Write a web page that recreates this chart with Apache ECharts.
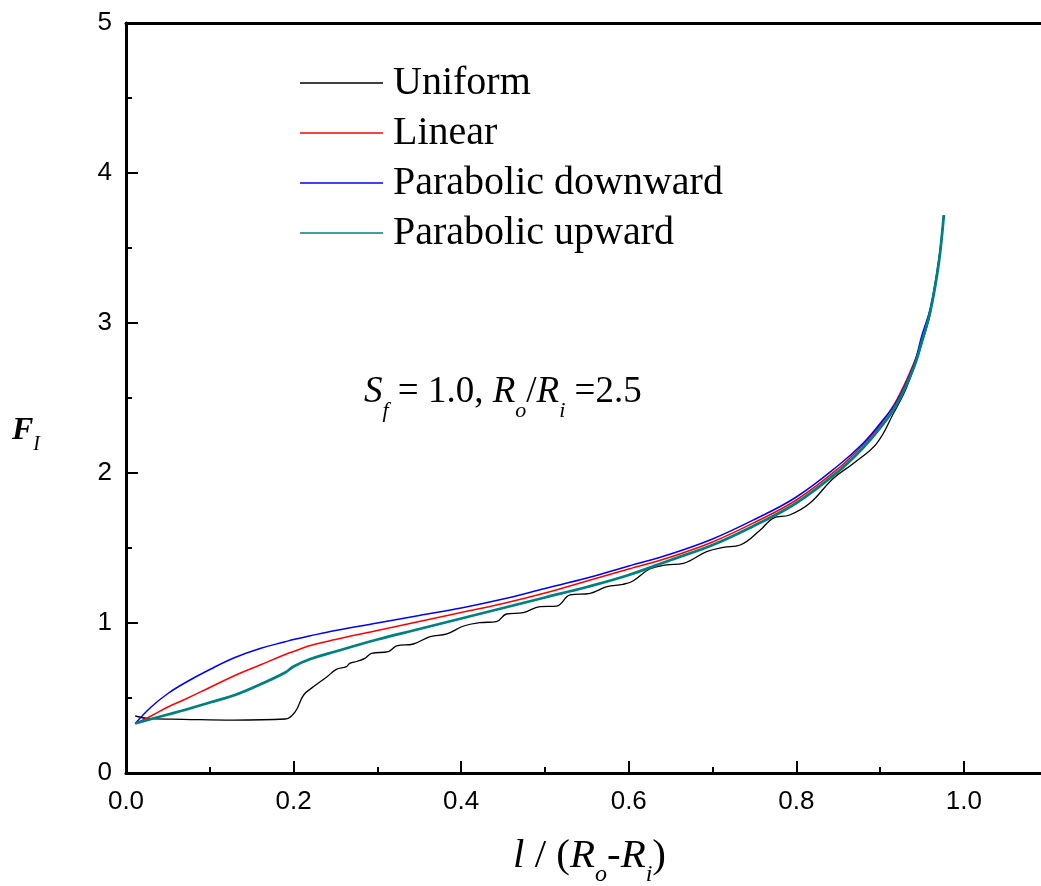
<!DOCTYPE html>
<html>
<head>
<meta charset="utf-8">
<script src="https://cdn.jsdelivr.net/npm/echarts@6/dist/echarts.min.js"></script>
<style>
  html, body { margin: 0; padding: 0; background: #fff; }
  #chart { width: 1041px; height: 886px; }
</style>
</head>
<body>
<div id="chart"></div>
<script>
// Axis ticks
const xMajorTicks = [0, 0.2, 0.4, 0.6, 0.8, 1.0];
const xMinorTicks = [0.1, 0.3, 0.5, 0.7, 0.9];
const yTicks = [0, 1, 2, 3, 4, 5];

const seriesNames = ['Uniform', 'Linear', 'Parabolic downward', 'Parabolic upward'];

// Shared abscissa of the three graded profiles, l / (Ro - Ri)
const gradedX = [0.011, 0.03, 0.05, 0.07, 0.1, 0.13, 0.16, 0.19, 0.2, 0.22, 0.25, 0.3, 0.35, 0.4,
  0.45, 0.5, 0.55, 0.6, 0.65, 0.7, 0.75, 0.8, 0.85, 0.88, 0.9, 0.92, 0.94, 0.95, 0.96, 0.97, 0.976];

// F_I for each profile
const linearY = [0.33, 0.38, 0.44, 0.49, 0.57, 0.65, 0.72, 0.79, 0.81, 0.85, 0.89, 0.95, 1.01, 1.07,
  1.13, 1.20, 1.28, 1.36, 1.44, 1.54, 1.67, 1.82, 2.03, 2.19, 2.32, 2.49, 2.73, 2.89, 3.09, 3.41, 3.72];
const downwardY = [0.33, 0.44, 0.53, 0.60, 0.69, 0.77, 0.83, 0.875, 0.89, 0.915, 0.95, 1.00, 1.05, 1.10,
  1.16, 1.23, 1.30, 1.38, 1.46, 1.56, 1.69, 1.84, 2.05, 2.20, 2.33, 2.48, 2.72, 2.92, 3.10, 3.42, 3.72];
const upwardY = [0.33, 0.36, 0.39, 0.42, 0.47, 0.52, 0.59, 0.67, 0.71, 0.76, 0.81, 0.89, 0.96, 1.03,
  1.10, 1.17, 1.24, 1.32, 1.42, 1.52, 1.65, 1.80, 2.01, 2.17, 2.30, 2.46, 2.70, 2.88, 3.08, 3.40, 3.72];

// Uniform profile (own sampling, wavy)
const uniformX = [0.011, 0.029, 0.068, 0.128, 0.19, 0.202, 0.212, 0.224, 0.24, 0.251, 0.263, 0.267,
  0.276, 0.285, 0.293, 0.313, 0.323, 0.343, 0.363, 0.383, 0.403, 0.422, 0.442, 0.454, 0.474, 0.494,
  0.514, 0.530, 0.554, 0.574, 0.593, 0.605, 0.625, 0.645, 0.665, 0.693, 0.713, 0.733, 0.757, 0.772,
  0.792, 0.816, 0.844, 0.868, 0.896, 0.916, 0.932, 0.95, 0.96, 0.97, 0.976];
const uniformY = [0.38, 0.362, 0.358, 0.353, 0.36, 0.409, 0.52, 0.576, 0.642, 0.691, 0.709, 0.731,
  0.745, 0.764, 0.798, 0.809, 0.847, 0.86, 0.909, 0.927, 0.98, 1.002, 1.009, 1.06, 1.069, 1.109,
  1.113, 1.187, 1.198, 1.242, 1.258, 1.28, 1.36, 1.387, 1.398, 1.476, 1.504, 1.52, 1.62, 1.698,
  1.72, 1.798, 1.964, 2.064, 2.198, 2.398, 2.576, 2.87, 3.07, 3.40, 3.72];

const pairs = (xs, ys) => xs.map((x, i) => [x, ys[i]]);

const serif = 'Liberation Serif, Times New Roman, serif';
const sans = 'Liberation Sans, Arial, sans-serif';

// Rich-text styles for a main run with lowered subscripts
function richStyles(size, subSize, lineH, bold) {
  return {
    i: { fontFamily: serif, fontStyle: 'italic', fontWeight: bold ? 'bold' : 'normal', fontSize: size, lineHeight: lineH, fill: '#000' },
    n: { fontFamily: serif, fontSize: size, lineHeight: lineH, fill: '#000' },
    s: { fontFamily: serif, fontStyle: 'italic', fontSize: subSize, lineHeight: subSize, verticalAlign: 'bottom', fill: '#000' }
  };
}

const chart = echarts.init(document.getElementById('chart'), null, { renderer: 'canvas' });

const xMax = 1.092;

function lineSeries(name, xs, ys, color, width, z) {
  return {
    name: name, type: 'line', xAxisIndex: 0, data: pairs(xs, ys),
    symbol: 'none', showSymbol: false, smooth: 0.4,
    lineStyle: { color: color, width: width }, itemStyle: { color: color }, z: z
  };
}

chart.setOption({
  animation: false,
  backgroundColor: '#fff',
  grid: { left: 126, right: 0, top: 23, bottom: 113, containLabel: false },
  legend: {
    orient: 'vertical',
    left: 300,
    top: 63,
    padding: 0,
    icon: 'rect',
    itemWidth: 83,
    itemHeight: 1.5,
    itemGap: 10,
    data: seriesNames,
    textStyle: { fontFamily: serif, fontSize: 40, lineHeight: 40, color: '#000', padding: [0, 0, 0, 5] }
  },
  xAxis: [
    {
      type: 'value', min: 0, max: xMax, position: 'bottom',
      axisLine: { show: true, onZero: false, lineStyle: { color: '#000', width: 3 } },
      axisTick: { show: true, inside: true, length: 12, lineStyle: { color: '#000', width: 2 }, customValues: xMajorTicks },
      axisLabel: { color: '#000', fontFamily: sans, fontSize: 26, margin: 16, customValues: xMajorTicks,
        formatter: v => v.toFixed(1) },
      splitLine: { show: false }
    },
    {
      type: 'value', min: 0, max: xMax, position: 'bottom',
      axisLine: { show: false },
      axisTick: { show: true, inside: true, length: 6, lineStyle: { color: '#000', width: 2 }, customValues: xMinorTicks },
      axisLabel: { show: false },
      splitLine: { show: false }
    },
    {
      type: 'value', min: 0, max: xMax, position: 'top',
      axisLine: { show: true, onZero: false, lineStyle: { color: '#000', width: 3 } },
      axisTick: { show: false },
      axisLabel: { show: false },
      splitLine: { show: false }
    }
  ],
  yAxis: {
    type: 'value', min: yTicks[0], max: yTicks[yTicks.length - 1], interval: 1,
    axisLine: { show: true, onZero: false, lineStyle: { color: '#000', width: 3 } },
    axisTick: { show: true, inside: true, length: 12, lineStyle: { color: '#000', width: 2 } },
    minorTick: { show: true, splitNumber: 2, length: 6, lineStyle: { color: '#000', width: 2 } },
    axisLabel: { color: '#000', fontFamily: sans, fontSize: 26, margin: 14 },
    splitLine: { show: false },
    minorSplitLine: { show: false }
  },
  graphic: [
    {
      type: 'text', left: 364, top: 374, silent: true,
      style: {
        text: '{i|S}{s|f}{n| = 1.0, }{i|R}{s|o}{n|/}{i|R}{s|i}{n| =2.5}',
        rich: richStyles(37, 22, 60, false)
      }
    },
    {
      type: 'text', left: 513, top: 836, silent: true,
      style: {
        text: '{i|l}{n| / (}{i|R}{s|o}{n|-}{i|R}{s|i}{n|)}',
        rich: richStyles(41, 24, 60, false)
      }
    },
    {
      type: 'text', left: 12, top: 415, silent: true,
      style: {
        text: '{i|F}{s|I}',
        rich: richStyles(32, 20, 48, true)
      }
    }
  ],
  series: [
    lineSeries(seriesNames[0], uniformX, uniformY, '#000000', 1.3, 2),
    lineSeries(seriesNames[1], gradedX, linearY, '#ff0000', 1.5, 3),
    lineSeries(seriesNames[2], gradedX, downwardY, '#0000ff', 1.5, 4),
    lineSeries(seriesNames[3], gradedX, upwardY, '#008080', 2.8, 5)
  ]
});
</script>
</body>
</html>
